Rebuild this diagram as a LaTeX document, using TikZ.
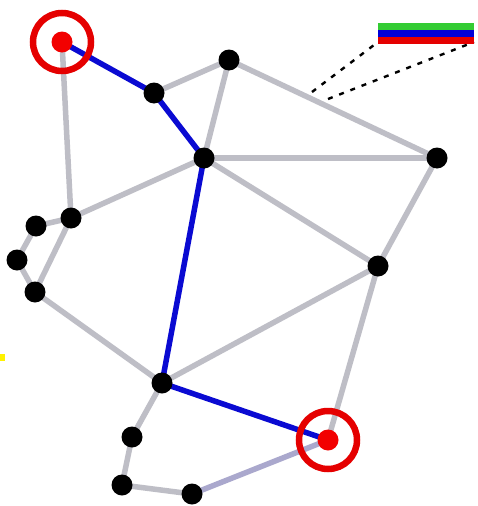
\documentclass[tikz,border=0pt]{standalone}
\begin{document}
\begin{tikzpicture}[x=1pt,y=-1pt,
  vtx/.style={circle,fill=black,inner sep=0pt,minimum size=21pt},
  endv/.style={circle,fill=red!95!black,inner sep=0pt,minimum size=21pt},
  ringc/.style={draw=red!90!black,line width=6.5pt},
  ge/.style={draw={rgb,255:red,190;green,190;blue,198},line width=5.5pt},
  le/.style={draw={rgb,255:red,170;green,168;blue,205},line width=5.5pt},
  be/.style={draw={rgb,255:red,10;green,10;blue,210},line width=5.5pt},
  dl/.style={draw=black,line width=2.4pt,dash pattern=on 5pt off 7pt}]
\useasboundingbox (0,0) rectangle (477,506);
\fill[white] (0,0) rectangle (477,506);
% nodes positions
\coordinate (S) at (62,42);
\coordinate (A) at (154,93);
\coordinate (B) at (229,60);
\coordinate (C) at (204,158);
\coordinate (D) at (437,158);
\coordinate (E) at (71,218);
\coordinate (F) at (36,226);
\coordinate (G) at (17,260);
\coordinate (H) at (35,292);
\coordinate (I) at (378,266);
\coordinate (J) at (162,383);
\coordinate (K) at (132,437);
\coordinate (L) at (122,485);
\coordinate (M) at (192,494);
\coordinate (T) at (328,440);
\coordinate (d1a) at (312,92);
\coordinate (d1b) at (378,42);
\coordinate (d2a) at (328,99);
\coordinate (d2b) at (474,42);
% gray edges
\path[ge] (S) -- (E);
\path[ge] (A) -- (B);
\path[ge] (B) -- (C);
\path[ge] (B) -- (D);
\path[ge] (C) -- (D);
\path[ge] (C) -- (E);
\path[ge] (C) -- (I);
\path[ge] (D) -- (I);
\path[ge] (E) -- (F);
\path[ge] (F) -- (G);
\path[ge] (G) -- (H);
\path[ge] (E) -- (H);
\path[ge] (H) -- (J);
\path[ge] (J) -- (I);
\path[ge] (I) -- (T);
\path[ge] (J) -- (K);
\path[ge] (K) -- (L);
\path[ge] (L) -- (M);
\path[le] (M) -- (T);
% blue path
\path[be] (S) -- (A) -- (C) -- (J) -- (T);
% dashed
\path[dl] (d1a) -- (d1b);
\path[dl] (d2a) -- (d2b);
% legend bars
\fill[green!75!black!80] (378,23) rectangle (474,30);
\fill[blue!85!black] (378,30) rectangle (474,37);
\fill[red!90!black] (378,37) rectangle (474,44);
% yellow mark
\fill[yellow] (0,354) rectangle (5,361);
% vertices
\foreach \p in {A,B,C,D,E,F,G,H,I,J,K,L,M} \node[vtx] (n\p) at (\p) {};
\node[endv] (nS) at (S) {};
\node[endv] (nT) at (T) {};
\draw[ringc] (S) circle (29);
\draw[ringc] (T) circle (29);
\end{tikzpicture}
\end{document}
